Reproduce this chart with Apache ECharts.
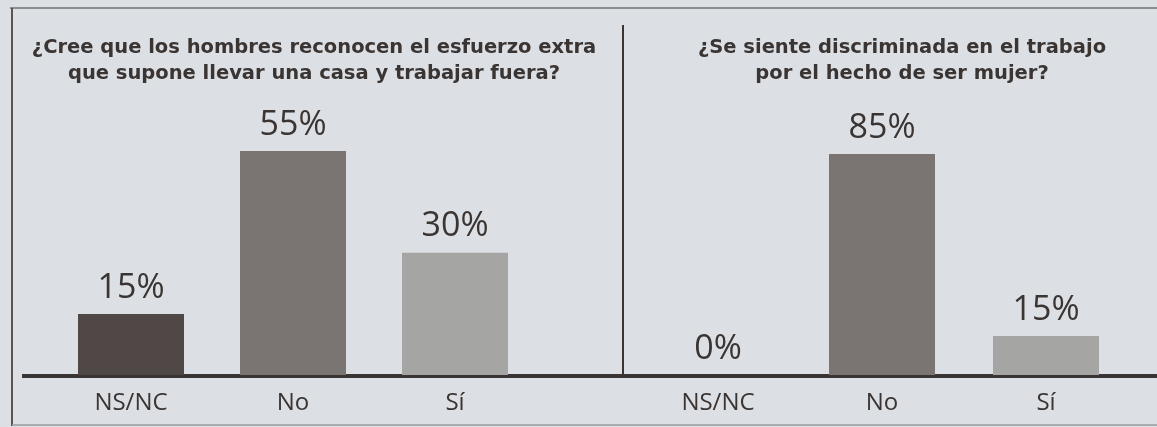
<!DOCTYPE html>
<html>
<head>
<meta charset="utf-8">
<script src="https://cdn.jsdelivr.net/npm/echarts@6/dist/echarts.min.js"></script>
<style>
  html, body { margin: 0; padding: 0; background: #dcdfe3; }
  #chart { width: 1157px; height: 427px; }
</style>
</head>
<body>
<div id="chart"></div>
<script>
// datos de las dos encuestas
const categories = ['NS/NC', 'No', 'Sí'];
const reconocenValues = [15, 55, 30];
const discriminadaValues = [0, 85, 15];
const reconocenTitle = '¿Cree que los hombres reconocen el esfuerzo extra\nque supone llevar una casa y trabajar fuera?';
const discriminadaTitle = '¿Se siente discriminada en el trabajo\npor el hecho de ser mujer?';

const barColors = ['#504847', '#7a7473', '#a5a5a3'];
const ink = '#3a3433';

const chart = echarts.init(document.getElementById('chart'));

function barSeries (values, idx) {
  return {
    type: 'bar',
    xAxisIndex: idx,
    yAxisIndex: idx,
    barWidth: 106,
    data: values.map((v, i) => ({ value: v, itemStyle: { color: barColors[i] } })),
    label: {
      show: true,
      position: 'top',
      distance: 9,
      formatter: '{c}%',
      fontFamily: 'Open Sans',
      fontSize: 34,
      color: ink
    }
  };
}

function catAxis (idx) {
  return {
    type: 'category',
    gridIndex: idx,
    data: categories,
    axisLine: { show: false },
    axisTick: { show: false },
    axisLabel: {
      fontFamily: 'Open Sans',
      fontSize: 24,
      color: ink,
      margin: 16
    }
  };
}

function valAxis (idx, max) {
  return {
    type: 'value',
    gridIndex: idx,
    min: 0,
    max: max,
    show: false,
    splitLine: { show: false }
  };
}

const titleStyle = {
  fontFamily: 'DejaVu Sans',
  fontWeight: 'bold',
  fontSize: 19.5,
  lineHeight: 26,
  color: ink
};

chart.setOption({
  backgroundColor: '#dcdfe3',
  animation: false,
  title: [
    { text: reconocenTitle, left: 309, top: 30, textAlign: 'center', textStyle: titleStyle },
    { text: discriminadaTitle, left: 897, top: 30, textAlign: 'center', textStyle: titleStyle }
  ],
  grid: [
    { left: 50, width: 486, top: 100, bottom: 52 },
    { left: 636, width: 492, top: 100, bottom: 52 }
  ],
  xAxis: [catAxis(0), catAxis(1)],
  yAxis: [valAxis(0, 67.5), valAxis(1, 105.8)],
  series: [barSeries(reconocenValues, 0), barSeries(discriminadaValues, 1)],
  graphic: [
    // marco
    { type: 'line', shape: { x1: 10, y1: 8, x2: 1157, y2: 8 }, style: { stroke: '#8a8c8e', lineWidth: 2 } },
    { type: 'line', shape: { x1: 12, y1: 8, x2: 12, y2: 426 }, style: { stroke: '#5a5554', lineWidth: 2 } },
    { type: 'line', shape: { x1: 12, y1: 425, x2: 1157, y2: 425 }, style: { stroke: '#9a9c9e', lineWidth: 1.5 } },
    // separador
    { type: 'line', shape: { x1: 623, y1: 25, x2: 623, y2: 375 }, style: { stroke: ink, lineWidth: 2 } },
    // linea base
    { type: 'line', shape: { x1: 22, y1: 376, x2: 1157, y2: 376 }, style: { stroke: ink, lineWidth: 4 } }
  ]
});
</script>
</body>
</html>
